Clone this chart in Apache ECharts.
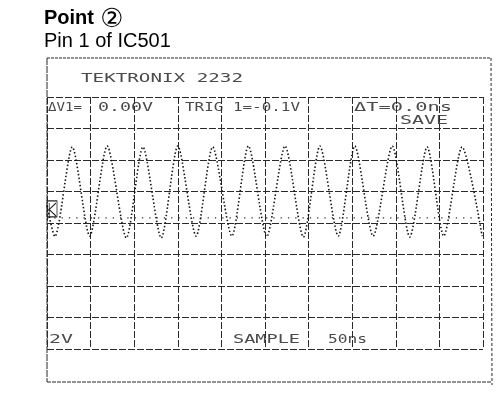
<!DOCTYPE html>
<html>
<head>
<meta charset="utf-8">
<title>Point 2 - Pin 1 of IC501</title>
<script src="https://cdn.jsdelivr.net/npm/echarts@6/dist/echarts.min.js"></script>
<style>
  html, body { margin: 0; padding: 0; background: #fff; }
  #chart { width: 496px; height: 414px; }
</style>
</head>
<body>
<div id="chart"></div>
<script>
// Oscilloscope capture: 50 ns/div horizontally, 2 V/div vertically.
const timeNs = [0, 9, 29, 49, 69, 91, 110, 131, 150, 171, 190, 212, 231,
                252, 273, 294, 313, 334, 353, 374, 396, 416, 436, 455, 476, 499];
const volts  = [1.1, -0.86, 4.83, -0.83, 4.89, -0.95, 4.83, -0.95, 4.89, -0.83, 4.83, -0.83, 4.89,
                -0.86, 4.89, -0.89, 4.89, -0.83, 4.89, -0.83, 4.89, -0.89, 4.83, -0.83, 4.83, -0.83];
// Dotted reference level drawn across the screen
const refLevelTime = [0, 500];
const refLevelVolts = [0.32, 0.32];

// Screen read-outs
const headerText = 'TEKTRONIX 2232';
const cursorLabel = 'ΔV1=';
const cursorValue = '0.00V';
const triggerText = 'TRIG 1=-0.1V';
const deltaTText = 'ΔT=0.0ns';
const modeText = 'SAVE';
const voltsDivText = '2V';
const acqText = 'SAMPLE';
const timeDivText = '50ns';

const titleMain = 'Point';
const titleMark = '②';
const subTitle = 'Pin 1 of IC501';

const chart = echarts.init(document.getElementById('chart'), null, { renderer: 'canvas' });

const INK = '#262626';
const MONO = 'DejaVu Sans Mono';
const MONO_SIZE = 12.5;
const SANS = 'Liberation Sans';

// Monospace read-out stretched to span [left, right]
function readout(id, str, left, right, cy) {
  const n = Array.from(str).length;
  const natural = n * 0.602 * MONO_SIZE;
  return {
    type: 'text',
    id: id,
    x: left,
    y: cy,
    scaleX: (right - left) / natural,
    silent: true,
    style: {
      text: str,
      x: 0, y: 0,
      fontFamily: MONO,
      fontSize: MONO_SIZE,
      fill: '#4a4a4a',
      verticalAlign: 'middle',
      align: 'left'
    }
  };
}

function frameLine(id, x1, y1, x2, y2, dash) {
  return {
    type: 'line',
    id: id,
    silent: true,
    shape: { x1, y1, x2, y2 },
    style: { stroke: INK, lineWidth: 1, lineDash: dash || null }
  };
}

const gridLine = { color: '#2a2a2a', width: 1, type: [7, 2] };

// Channel ground marker: a box with an arrow, sitting on the reference level at the left edge
const groundMarkerPath = 'path://M0,0H9V15H0Z M8,2L2,8L8,14 M2,2V14';

chart.setOption({
  animation: false,
  backgroundColor: '#fff',
  grid: { left: 47, right: 13, top: 97, bottom: 65, containLabel: false },
  xAxis: {
    type: 'value',
    min: 0, max: 500, interval: 50,
    axisLine: { show: false },
    axisTick: { show: false },
    axisLabel: { show: false },
    splitLine: { show: true, lineStyle: gridLine }
  },
  yAxis: {
    type: 'value',
    min: -8, max: 8, interval: 2,
    axisLine: { show: false },
    axisTick: { show: false },
    axisLabel: { show: false },
    splitLine: { show: true, lineStyle: gridLine }
  },
  series: [
    {
      type: 'line',
      name: 'CH1',
      data: timeNs.map((t, i) => [t, volts[i]]),
      smooth: 0.25,
      showSymbol: false,
      lineStyle: { color: '#141414', width: 1.6, type: [1.5, 2.2] },
      z: 5
    },
    {
      type: 'line',
      name: 'ref',
      data: refLevelTime.map((t, i) => [t, refLevelVolts[i]]),
      showSymbol: false,
      lineStyle: { color: '#333', width: 1.3, type: [1.3, 6] },
      z: 4,
      markPoint: {
        silent: true,
        symbol: groundMarkerPath,
        symbolSize: [10, 16],
        symbolOffset: [5, -9],
        itemStyle: { color: 'none', borderColor: INK, borderWidth: 1 },
        label: { show: false },
        data: [{ coord: [refLevelTime[0], refLevelVolts[0]] }]
      }
    }
  ],
  graphic: [
    {
      type: 'text', id: 'title', x: 44, y: 8, silent: true,
      style: {
        text: titleMain, verticalAlign: 'top',
        fontFamily: SANS, fontSize: 20, fontWeight: 'bold', fill: '#000'
      }
    },
    {
      type: 'text', id: 'titleMark', x: 112, y: 20, silent: true,
      style: {
        text: titleMark, verticalAlign: 'middle', align: 'center',
        fontFamily: 'DejaVu Sans', fontSize: 26, fontWeight: 'normal', fill: '#000'
      }
    },
    {
      type: 'text', id: 'subtitle', x: 44, y: 31, silent: true,
      style: {
        text: subTitle, verticalAlign: 'top',
        fontFamily: SANS, fontSize: 20, fontWeight: 'normal', fill: '#000'
      }
    },
    frameLine('fTop', 47, 58, 491, 58, [3, 1]),
    frameLine('fLeft', 47, 58, 47, 382, [7, 1]),
    frameLine('fBottom', 47, 382, 492, 382, [4, 1]),
    frameLine('fRight', 491, 58, 492, 385, [3, 2]),
    readout('tHead', headerText, 81, 243, 79),
    readout('tCurL', cursorLabel, 48, 82, 108),
    readout('tCurV', cursorValue, 98, 153, 108),
    readout('tTrig', triggerText, 185, 300, 108),
    readout('tDt', deltaTText, 354, 452, 108),
    readout('tMode', modeText, 400, 448, 121),
    readout('tVdiv', voltsDivText, 49, 73, 340),
    readout('tAcq', acqText, 233, 300, 340),
    readout('tTdiv', timeDivText, 328, 367, 340)
  ]
});
</script>
</body>
</html>
